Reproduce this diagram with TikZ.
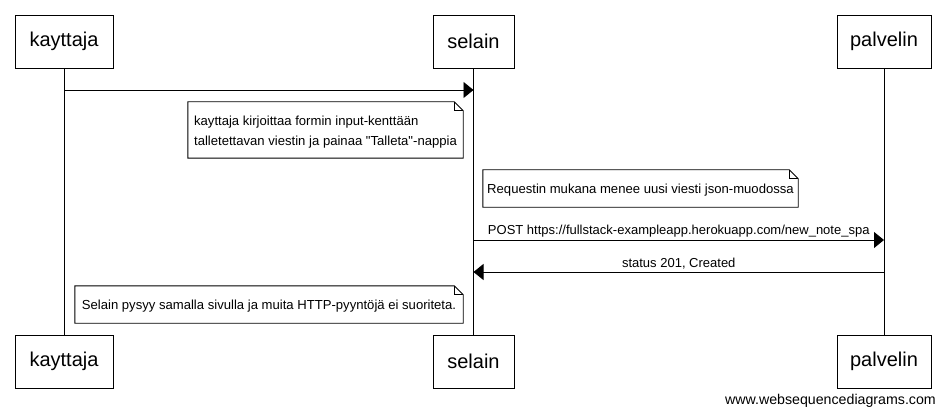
\documentclass[tikz,border=0pt]{standalone}
\usepackage{fontspec}
\setmainfont{Liberation Sans}[Ligatures=TeXOff]
\usetikzlibrary{arrows.meta}
\begin{document}
\begin{tikzpicture}[x=1pt,y=-1pt,
  actor/.style={draw, line width=0.9pt, fill=white, minimum height=53pt, inner sep=0pt, font=\fontsize{20}{24}\selectfont},
  msg/.style={line width=0.9pt, -{Triangle[length=10pt,width=16pt]}},
  life/.style={line width=0.9pt},
  lbl/.style={font=\fontsize{13}{16}\selectfont, inner sep=0pt},
  notebox/.style={inner sep=0pt, align=left, font=\fontsize{13.1}{20}\selectfont},
  notedraw/.style={draw, line width=0.9pt, fill=white},
  fold/.style={line width=0.9pt}]
\useasboundingbox[fill=white] (0,0) rectangle (944,414);
\node[actor, minimum width=98pt] (k1) at (64,41.5) {kayttaja};
\node[actor, minimum width=81pt] (s1) at (473.5,41.5) {selain};
\node[actor, minimum width=94pt] (p1) at (884,41.5) {palvelin};
\node[actor, minimum width=98pt] (k2) at (64,361.5) {kayttaja};
\node[actor, minimum width=81pt] (s2) at (473.5,361.5) {selain};
\node[actor, minimum width=94pt] (p2) at (884,361.5) {palvelin};
\draw[life] (k1) -- (k2);
\draw[life] (s1) -- (s2);
\draw[life] (p1) -- (p2);
% message 1
\coordinate (y1) at (0,90);
\draw[msg] (k1 |- y1) -- (s1 |- y1);
% note 1
\node[notebox, minimum width=275pt, minimum height=56pt] (n1) at (325.5,130) {};
\draw[notedraw] (n1.south west) -- (n1.north west) -- ([xshift=-9pt]n1.north east) -- ([yshift=-9pt]n1.north east) -- (n1.south east) -- cycle;
\draw[fold] ([xshift=-9pt]n1.north east) -- ([xshift=-9pt,yshift=-9pt]n1.north east) -- ([yshift=-9pt]n1.north east);
\node[notebox, yshift=-2pt] (t1) at (n1) {kayttaja kirjoittaa formin input-kenttään\\talletettavan viestin ja painaa "Talleta"-nappia};
% note 2
\node[notebox, minimum width=315pt, minimum height=37pt] (n2) at (640.5,188.5) {};
\draw[notedraw] (n2.south west) -- (n2.north west) -- ([xshift=-9pt]n2.north east) -- ([yshift=-9pt]n2.north east) -- (n2.south east) -- cycle;
\draw[fold] ([xshift=-9pt]n2.north east) -- ([xshift=-9pt,yshift=-9pt]n2.north east) -- ([yshift=-9pt]n2.north east);
\node[notebox, yshift=-1.5pt] (t2) at (n2) {Requestin mukana menee uusi viesti json-muodossa};
% message 2
\coordinate (y2) at (0,240);
\draw[msg] (s1 |- y2) -- node[lbl, above=2pt] (l2) {POST https://fullstack-exampleapp.herokuapp.com/new\_note\_spa} (p1 |- y2);
% message 3
\coordinate (y3) at (0,272);
\draw[msg] (p1 |- y3) -- node[lbl, above=2pt] (l3) {status 201, Created} (s1 |- y3);
% note 3
\node[notebox, minimum width=388pt, minimum height=37pt] (n3) at (269,304.5) {};
\draw[notedraw] (n3.south west) -- (n3.north west) -- ([xshift=-9pt]n3.north east) -- ([yshift=-9pt]n3.north east) -- (n3.south east) -- cycle;
\draw[fold] ([xshift=-9pt]n3.north east) -- ([xshift=-9pt,yshift=-9pt]n3.north east) -- ([yshift=-9pt]n3.north east);
\node[notebox, yshift=-1.5pt] (t3) at (n3) {Selain pysyy samalla sivulla ja muita HTTP-pyyntöjä ei suoriteta.};
% footer
\node[lbl, font=\fontsize{14.2}{17}\selectfont, anchor=base east] (foot) at (936,404) {www.websequencediagrams.com};
\end{tikzpicture}
\end{document}
